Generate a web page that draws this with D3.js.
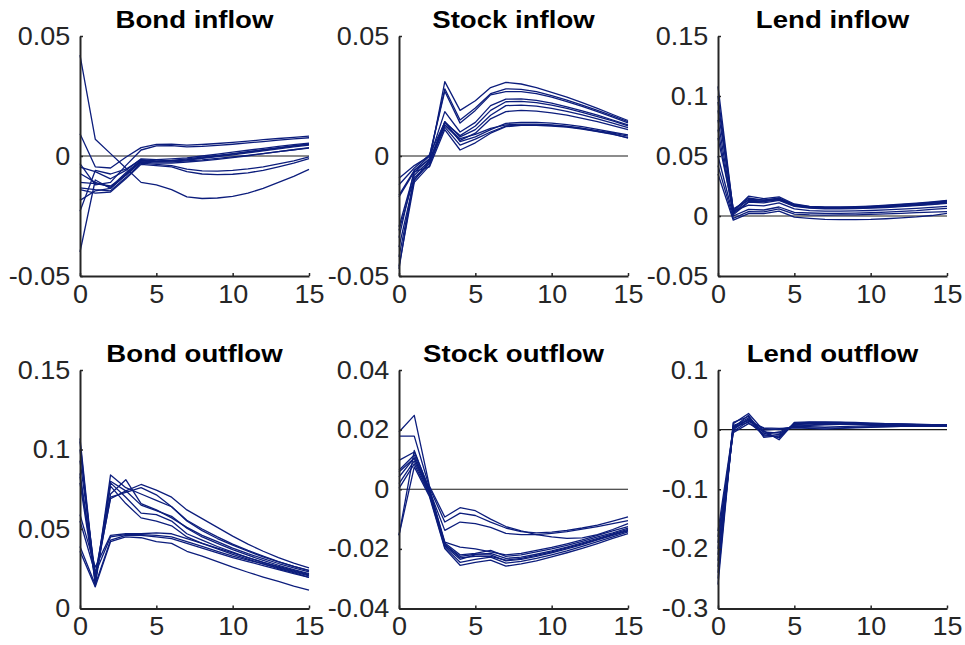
<!DOCTYPE html>
<html>
<head>
<meta charset="utf-8">
<script src="https://cdn.jsdelivr.net/npm/d3@7"></script>
<style>
  html, body { margin: 0; padding: 0; background: #ffffff; }
  svg { display: block; }
</style>
</head>
<body>
<svg id="chart" width="965" height="645"></svg>
<script>
// ---------- data ----------
const periods = [0,1,2,3,4,5,6,7,8,9,10,11,12,13,14,15];
const xTicks = [0,5,10,15];
const xTickLabels = ["0","5","10","15"];

const titles = ["Bond inflow","Stock inflow","Lend inflow","Bond outflow","Stock outflow","Lend outflow"];

const yDomains = [[-0.05,0.05],[-0.05,0.05],[-0.05,0.15],[0,0.15],[-0.04,0.04],[-0.3,0.1]];
const yTicks = [
  [-0.05,0,0.05],
  [-0.05,0,0.05],
  [-0.05,0,0.05,0.1,0.15],
  [0,0.05,0.1,0.15],
  [-0.04,-0.02,0,0.02,0.04],
  [-0.3,-0.2,-0.1,0,0.1]
];
const yTickLabels = [
  ["-0.05","0","0.05"],
  ["-0.05","0","0.05"],
  ["-0.05","0","0.05","0.1","0.15"],
  ["0","0.05","0.1","0.15"],
  ["-0.04","-0.02","0","0.02","0.04"],
  ["-0.3","-0.2","-0.1","0","0.1"]
];

const bondInflow = [
  [0.042,0.007,0.001,-0.005,-0.011,-0.012,-0.014,-0.017,-0.0177,-0.0175,-0.0168,-0.0155,-0.0135,-0.011,-0.0085,-0.0056],
  [0.0093,-0.0045,-0.005,-0.0005,0.0035,0.0048,0.0049,0.0045,0.0048,0.0052,0.0057,0.0062,0.0068,0.0073,0.0078,0.0083],
  [-0.0032,-0.012,-0.011,-0.004,0.0025,0.0042,0.0043,0.0038,0.004,0.0044,0.0049,0.0055,0.006,0.0066,0.0071,0.0076],
  [-0.0046,-0.0065,-0.0095,-0.006,-0.0012,-0.0015,-0.0012,-0.0008,0.0,0.0008,0.0016,0.0024,0.0032,0.004,0.0047,0.0054],
  [-0.0073,-0.011,-0.013,-0.007,-0.0018,-0.0022,-0.002,-0.0015,-0.0008,0.0,0.0008,0.0016,0.0025,0.0033,0.0041,0.0049],
  [-0.011,-0.0115,-0.0125,-0.008,-0.0025,-0.003,-0.003,-0.0025,-0.002,-0.0014,-0.0007,0.0001,0.001,0.0018,0.0026,0.0033],
  [-0.0133,-0.014,-0.0145,-0.009,-0.003,-0.0035,-0.004,-0.0055,-0.0062,-0.0063,-0.006,-0.0054,-0.0045,-0.0033,-0.002,-0.0004],
  [-0.014,-0.0155,-0.015,-0.0095,-0.0035,-0.004,-0.0045,-0.0065,-0.0075,-0.0078,-0.0076,-0.007,-0.006,-0.0045,-0.003,-0.0011],
  [-0.0185,-0.0145,-0.0135,-0.008,-0.002,-0.0025,-0.0025,-0.002,-0.0016,-0.001,-0.0004,0.0003,0.001,0.0018,0.0026,0.0035],
  [-0.023,-0.006,-0.0075,-0.0055,-0.0015,-0.002,-0.0018,-0.0012,-0.0005,0.0002,0.001,0.0018,0.0026,0.0035,0.0043,0.005],
  [-0.040,-0.010,-0.0135,-0.0075,-0.002,-0.0022,-0.002,-0.0017,-0.001,-0.0003,0.0005,0.0013,0.0021,0.003,0.0038,0.0045]
];

const stockInflow = [
  [-0.047,-0.008,-0.002,0.031,0.019,0.023,0.0285,0.0307,0.030,0.0285,0.0265,0.0245,0.0222,0.0198,0.0173,0.0148],
  [-0.034,-0.006,0.0,0.028,0.015,0.020,0.026,0.028,0.0278,0.0268,0.0252,0.0233,0.0212,0.019,0.0167,0.0143],
  [-0.0093,-0.004,0.0,0.027,0.0137,0.019,0.0255,0.0268,0.0268,0.026,0.0245,0.0227,0.0207,0.0185,0.0162,0.0138],
  [-0.0295,-0.007,-0.001,0.0185,0.010,0.014,0.021,0.0237,0.0238,0.0232,0.022,0.0205,0.0188,0.017,0.015,0.013],
  [-0.012,-0.005,0.0005,0.014,0.0085,0.0125,0.019,0.0226,0.0228,0.0222,0.0212,0.0198,0.0182,0.0164,0.0146,0.0126],
  [-0.038,-0.010,-0.002,0.0143,0.008,0.011,0.017,0.021,0.0212,0.0208,0.0198,0.0186,0.0171,0.0155,0.0137,0.0118],
  [-0.0163,-0.006,-0.0015,0.0129,0.0065,0.0095,0.0155,0.0185,0.019,0.0187,0.018,0.017,0.0157,0.0143,0.0127,0.011],
  [-0.046,-0.011,-0.004,0.0143,0.006,0.008,0.011,0.0136,0.014,0.014,0.0137,0.0131,0.0122,0.0111,0.0099,0.0088],
  [-0.042,-0.010,-0.003,0.013,0.0072,0.009,0.0115,0.013,0.0133,0.0133,0.013,0.0124,0.0116,0.0106,0.0095,0.0083],
  [-0.017,-0.0065,-0.0045,0.011,0.0025,0.0055,0.0095,0.0122,0.0128,0.0128,0.0125,0.012,0.0112,0.0102,0.009,0.0077],
  [-0.031,-0.009,-0.003,0.012,0.0045,0.007,0.010,0.0125,0.013,0.013,0.0128,0.0122,0.0114,0.0103,0.0092,0.0074]
];

const lendInflow = [
  [0.108,0.004,0.0165,0.0145,0.016,0.010,0.008,0.0075,0.0075,0.0078,0.0083,0.009,0.0098,0.0107,0.0118,0.013],
  [0.100,0.005,0.015,0.013,0.015,0.0095,0.0078,0.0072,0.0072,0.0074,0.0079,0.0086,0.0094,0.0103,0.0113,0.0125],
  [0.095,0.003,0.014,0.0135,0.0145,0.009,0.0075,0.007,0.0069,0.0071,0.0076,0.0082,0.009,0.0099,0.0109,0.012],
  [0.088,0.006,0.013,0.0125,0.014,0.0088,0.0072,0.0067,0.0066,0.0068,0.0072,0.0078,0.0086,0.0095,0.0105,0.0115],
  [0.080,0.002,0.012,0.012,0.0135,0.0085,0.007,0.0064,0.0063,0.0065,0.0069,0.0075,0.0082,0.009,0.0099,0.011],
  [0.072,0.001,0.0115,0.011,0.013,0.008,0.0065,0.006,0.006,0.0062,0.0066,0.0071,0.0078,0.0086,0.0095,0.0105],
  [0.065,0.004,0.009,0.0085,0.011,0.006,0.0045,0.004,0.004,0.0042,0.0046,0.0051,0.0057,0.0064,0.0072,0.008],
  [0.050,0.000,0.0055,0.005,0.0075,0.003,0.0025,0.0022,0.0022,0.0024,0.0027,0.0032,0.0038,0.0045,0.0055,0.0064],
  [0.042,-0.002,0.0036,0.0035,0.006,0.0015,0.001,0.0008,0.0009,0.001,0.0013,0.0017,0.0022,0.0028,0.0032,0.0036],
  [0.035,-0.0035,0.002,0.002,0.004,-0.001,-0.002,-0.0028,-0.003,-0.003,-0.0028,-0.0023,-0.0016,-0.0008,0.0004,0.0022]
];

const bondOutflow = [
  [0.085,0.020,0.069,0.074,0.078,0.0745,0.070,0.062,0.0565,0.051,0.0455,0.0405,0.036,0.032,0.0285,0.0255],
  [0.100,0.018,0.070,0.073,0.076,0.0715,0.064,0.0555,0.050,0.045,0.0405,0.0365,0.033,0.0295,0.0265,0.024],
  [0.093,0.022,0.072,0.081,0.066,0.062,0.057,0.051,0.046,0.042,0.038,0.0345,0.0313,0.0283,0.0256,0.023],
  [0.107,0.016,0.084,0.076,0.072,0.068,0.064,0.055,0.049,0.044,0.0398,0.036,0.0325,0.0293,0.0265,0.0238],
  [0.105,0.014,0.080,0.074,0.065,0.0615,0.058,0.0505,0.045,0.041,0.037,0.0335,0.0302,0.0272,0.0245,0.022],
  [0.083,0.019,0.079,0.070,0.060,0.059,0.055,0.047,0.043,0.039,0.0355,0.032,0.029,0.026,0.0235,0.021],
  [0.079,0.017,0.077,0.066,0.057,0.055,0.052,0.045,0.041,0.0375,0.034,0.031,0.028,0.025,0.0225,0.0195],
  [0.059,0.026,0.046,0.047,0.047,0.0475,0.047,0.044,0.041,0.038,0.035,0.032,0.029,0.0265,0.024,0.0215],
  [0.055,0.022,0.045,0.0465,0.0465,0.046,0.045,0.042,0.039,0.036,0.033,0.0305,0.028,0.0255,0.023,0.0205],
  [0.039,0.015,0.043,0.046,0.046,0.045,0.044,0.041,0.038,0.035,0.032,0.0295,0.027,0.0245,0.022,0.0195],
  [0.036,0.0136,0.042,0.045,0.0445,0.042,0.041,0.036,0.033,0.0295,0.026,0.0228,0.0198,0.017,0.014,0.0115]
];

const stockOutflow = [
  [0.0192,0.0248,0.001,-0.0093,-0.0062,-0.0072,-0.010,-0.0125,-0.014,-0.0152,-0.016,-0.0165,-0.0163,-0.0152,-0.0135,-0.0115],
  [0.0178,0.0178,0.0005,-0.011,-0.008,-0.0088,-0.011,-0.013,-0.0142,-0.0146,-0.0144,-0.0138,-0.013,-0.012,-0.0107,-0.0093],
  [-0.0155,0.013,-0.0005,-0.0138,-0.011,-0.0115,-0.0128,-0.0148,-0.0152,-0.0152,-0.0148,-0.0142,-0.0134,-0.0125,-0.0115,-0.0105],
  [0.0097,0.0125,0.0,-0.0177,-0.0194,-0.020,-0.021,-0.022,-0.0215,-0.0205,-0.0195,-0.0183,-0.017,-0.0155,-0.014,-0.0125],
  [0.0064,0.0115,-0.0005,-0.018,-0.022,-0.0215,-0.0205,-0.0225,-0.022,-0.021,-0.020,-0.0188,-0.0175,-0.016,-0.0146,-0.013],
  [0.0041,0.0105,-0.001,-0.0185,-0.0225,-0.0218,-0.0215,-0.0232,-0.0228,-0.0218,-0.0207,-0.0194,-0.018,-0.0165,-0.015,-0.0135],
  [0.0019,0.0095,-0.0015,-0.019,-0.0235,-0.022,-0.022,-0.024,-0.0235,-0.0225,-0.0213,-0.020,-0.0186,-0.017,-0.0155,-0.014],
  [0.0003,0.0085,-0.002,-0.0195,-0.0245,-0.0235,-0.0228,-0.0248,-0.0242,-0.0232,-0.022,-0.0207,-0.0192,-0.0176,-0.016,-0.0143],
  [-0.0154,0.0075,-0.0025,-0.0199,-0.0255,-0.0245,-0.0238,-0.0258,-0.025,-0.024,-0.0227,-0.0213,-0.0198,-0.0182,-0.0165,-0.0149],
  [0.0058,0.0105,-0.001,-0.0185,-0.023,-0.0225,-0.0225,-0.0238,-0.0232,-0.0222,-0.021,-0.0197,-0.0183,-0.0168,-0.0152,-0.0138]
];

const lendOutflow = [
  [-0.26,0.010,0.027,-0.002,-0.017,0.012,0.013,0.013,0.0125,0.012,0.011,0.010,0.0095,0.009,0.0085,0.008],
  [-0.25,0.012,0.022,-0.006,-0.014,0.011,0.012,0.012,0.012,0.011,0.0105,0.010,0.009,0.0085,0.008,0.0075],
  [-0.24,0.005,0.020,-0.010,-0.012,0.010,0.011,0.0105,0.010,0.010,0.0095,0.009,0.0085,0.008,0.0075,0.007],
  [-0.23,0.003,0.024,-0.013,-0.010,0.008,0.010,0.011,0.011,0.0105,0.010,0.0095,0.009,0.0085,0.008,0.0075],
  [-0.22,0.000,0.018,-0.004,-0.006,0.006,0.007,0.008,0.009,0.009,0.0088,0.0085,0.008,0.0077,0.0073,0.007],
  [-0.21,0.007,0.015,0.002,0.000,0.005,0.005,0.004,0.005,0.006,0.0065,0.0068,0.0068,0.0067,0.0065,0.0063],
  [-0.20,-0.003,0.014,0.003,0.002,0.003,0.002,0.001,0.002,0.003,0.004,0.0048,0.0053,0.0056,0.0058,0.006],
  [-0.19,0.004,0.012,-0.008,-0.004,0.007,0.008,0.009,0.009,0.0088,0.0085,0.0082,0.0079,0.0076,0.0073,0.007],
  [-0.18,-0.005,0.010,-0.001,0.001,0.004,0.003,0.0025,0.003,0.004,0.0045,0.005,0.0053,0.0055,0.0056,0.0057],
  [-0.17,0.002,0.017,-0.011,-0.008,0.009,0.010,0.010,0.0105,0.010,0.0095,0.009,0.0085,0.008,0.0077,0.0074]
];

const panelSeries = [bondInflow, stockInflow, lendInflow, bondOutflow, stockOutflow, lendOutflow];

// ---------- layout ----------
const colLeft = [80, 399, 718];
const rowTop = [36, 370];
const plotW = 229;
const plotH = [240, 238.5];
const lineColor = "#0c1d7c";
const axisColor = "#262626";
const fontFam = "'Liberation Sans', Arial, Helvetica, sans-serif";
const tickStretch = 1.08;
const titleStretch = 1.15;

const svg = d3.select("#chart");

panelSeries.forEach((series, i) => {
  const r = Math.floor(i / 3), c = i % 3;
  const h = plotH[r];
  const g = svg.append("g").attr("transform", `translate(${colLeft[c]},${rowTop[r]})`);

  const x = d3.scaleLinear().domain([0, 15]).range([0, plotW]);
  const y = d3.scaleLinear().domain(yDomains[i]).range([h, 0]);

  // zero line
  if (yDomains[i][0] < 0) {
    g.append("line")
      .attr("x1", x(0)).attr("x2", x(15))
      .attr("y1", y(0)).attr("y2", y(0))
      .attr("stroke", "#1a1a1a").attr("stroke-width", 1.1);
  }

  // series lines
  const line = d3.line().x((d, k) => x(periods[k])).y(d => y(d));
  g.append("g").selectAll("path").data(series).join("path")
    .attr("d", line)
    .attr("fill", "none")
    .attr("stroke", lineColor)
    .attr("stroke-width", 1.3)
    .attr("stroke-linejoin", "round");

  // axes
  const xAxis = d3.axisBottom(x).tickValues(xTicks)
    .tickFormat((d, k) => xTickLabels[k]).tickSizeInner(-3).tickSizeOuter(0).tickPadding(9);
  const yAxis = d3.axisLeft(y).tickValues(yTicks[i])
    .tickFormat((d, k) => yTickLabels[i][k]).tickSizeInner(-3).tickSizeOuter(0).tickPadding(9);

  const gx = g.append("g").attr("transform", `translate(0,${h})`).call(xAxis);
  const gy = g.append("g").call(yAxis);
  [gx, gy].forEach(a => {
    a.select(".domain").attr("stroke", axisColor).attr("stroke-width", 2);
    a.selectAll(".tick line").attr("stroke", axisColor).attr("stroke-width", 1.5);
    a.selectAll(".tick text")
      .attr("fill", axisColor)
      .attr("transform", `scale(${tickStretch},1)`)
      .style("font-family", fontFam)
      .style("font-size", "25px");
  });
  gx.selectAll(".tick text").attr("dy", "0.71em");

  // title
  g.append("text")
    .attr("transform", `translate(${plotW / 2},${-8}) scale(${titleStretch},1)`)
    .attr("text-anchor", "middle")
    .style("font-family", fontFam)
    .style("font-size", "24px")
    .style("font-weight", "bold")
    .attr("fill", "#000")
    .text(titles[i]);
});
</script>
</body>
</html>
